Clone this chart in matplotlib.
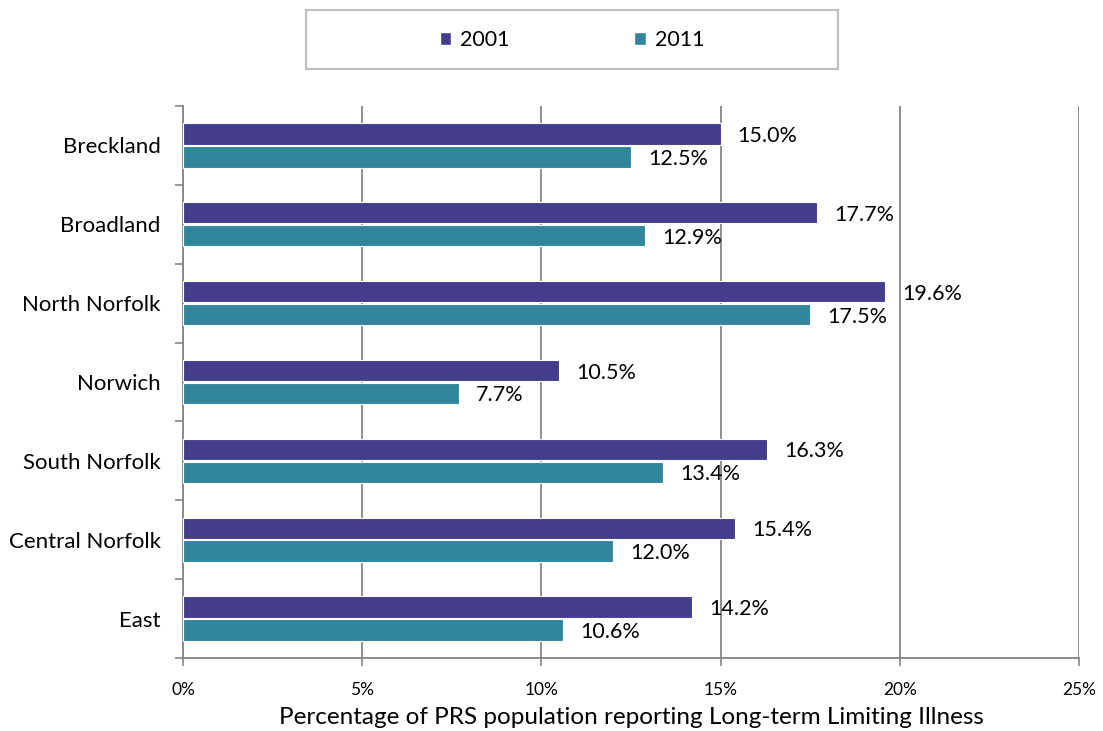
import matplotlib.pyplot as plt
import matplotlib.patches as mpatches
import numpy as np

# Datos
categorias = ['Breckland', 'Broadland', 'North Norfolk', 'Norwich',
              'South Norfolk', 'Central Norfolk', 'East']
valores_2001 = [15.0, 17.7, 19.6, 10.5, 16.3, 15.4, 14.2]
valores_2011 = [12.5, 12.9, 17.5, 7.7, 13.4, 12.0, 10.6]
series = ['2001', '2011']
colores = ['#433D8C', '#31869C']

plt.rcParams['font.family'] = ['Lato', 'DejaVu Sans']

fig = plt.figure(figsize=(11.03, 7.31), dpi=100)
ax = fig.add_axes([0.1659, 0.0999, 0.8123, 0.7551])

y = np.arange(len(categorias))
alto = 0.27
gris = '#868686'

for i, (vals, color) in enumerate(zip([valores_2001, valores_2011], colores)):
    pos = y - alto / 2 - 0.01 if i == 0 else y + alto / 2 + 0.01
    barras = ax.barh(pos, vals, height=alto, color=color, edgecolor='white',
                     linewidth=0.8, zorder=3)
    # etiquetas de valor a la derecha de cada barra
    for b, v in zip(barras, vals):
        ax.annotate(f'{v:.1f}%', (v, b.get_y() + b.get_height() / 2),
                    xytext=(17, -2), textcoords='offset pixels',
                    ha='left', va='center', fontsize=15.5)

ax.set_xlim(0, 25)
ax.set_ylim(len(categorias) - 0.5, -0.5)
ax.set_xticks(np.arange(0, 26, 5))
ax.set_xticklabels([f'{t}%' for t in range(0, 26, 5)], fontsize=12.5)
ax.set_yticks(y)
ax.set_yticklabels(categorias, fontsize=16)
ax.set_yticks(np.arange(-0.5, len(categorias)), minor=True)
ax.tick_params(axis='y', which='major', length=0, pad=16)
ax.tick_params(axis='y', which='minor', length=6, color=gris, width=1.2)
ax.tick_params(axis='x', length=6, color=gris, width=1.2, direction='out', pad=11)

ax.grid(True, axis='x', color=gris, linewidth=1.3, zorder=0)
ax.set_axisbelow(True)
for lado in ['top', 'right']:
    ax.spines[lado].set_visible(False)
for lado in ['left', 'bottom']:
    ax.spines[lado].set_color(gris)
    ax.spines[lado].set_linewidth(1.3)

ax.set_xlabel('Percentage of PRS population reporting Long-term Limiting Illness',
              fontsize=17.5, labelpad=7)

# Leyenda con marco fijo
marco = mpatches.Rectangle((306 / 1103, 1 - 69 / 731), 532 / 1103, 59 / 731,
                           transform=fig.transFigure, facecolor='white',
                           edgecolor='#BFBFBF', linewidth=1.5)
fig.patches.append(marco)
manijas = [mpatches.Patch(facecolor=c, edgecolor='white') for c in colores]
fig.legend(manijas, series, loc='center', bbox_to_anchor=(572 / 1103, 1 - 40 / 731),
           ncol=2, frameon=False, fontsize=15.5, handlelength=0.55, handleheight=0.55,
           handletextpad=0.4, columnspacing=5.8)

fig.savefig('out.png', dpi=100)
